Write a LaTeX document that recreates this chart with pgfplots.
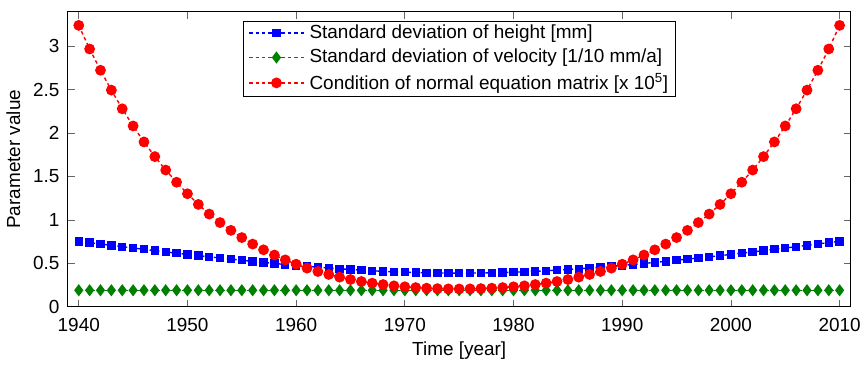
\documentclass[border=0pt]{standalone}
\usepackage{fontspec}
\setmainfont{Liberation Sans}
\usepackage{pgfplots}
\pgfplotsset{compat=1.18}
\usepackage{pgfplotstable}

\pgfplotstableread{
year h v c
1940 0.754 0.19 3.242
1941 0.739 0.19 2.970
1942 0.723 0.19 2.725
1943 0.707 0.19 2.496
1944 0.692 0.19 2.281
1945 0.677 0.19 2.083
1946 0.662 0.19 1.899
1947 0.647 0.19 1.730
1948 0.632 0.19 1.575
1949 0.617 0.19 1.435
1950 0.603 0.19 1.302
1951 0.589 0.19 1.179
1952 0.575 0.19 1.068
1953 0.562 0.19 0.970
1954 0.549 0.19 0.880
1955 0.536 0.19 0.797
1956 0.523 0.19 0.722
1957 0.511 0.19 0.656
1958 0.499 0.19 0.596
1959 0.487 0.19 0.540
1960 0.476 0.19 0.490
1961 0.466 0.19 0.445
1962 0.456 0.19 0.406
1963 0.446 0.19 0.372
1964 0.438 0.19 0.341
1965 0.429 0.19 0.314
1966 0.422 0.19 0.291
1967 0.415 0.19 0.272
1968 0.408 0.19 0.256
1969 0.403 0.19 0.241
1970 0.398 0.19 0.230
1971 0.394 0.19 0.221
1972 0.391 0.19 0.214
1973 0.389 0.19 0.209
1974 0.388 0.19 0.206
1975 0.387 0.19 0.205
1976 0.388 0.19 0.206
1977 0.389 0.19 0.209
1978 0.391 0.19 0.214
1979 0.394 0.19 0.221
1980 0.398 0.19 0.230
1981 0.403 0.19 0.241
1982 0.408 0.19 0.256
1983 0.415 0.19 0.272
1984 0.422 0.19 0.291
1985 0.429 0.19 0.314
1986 0.438 0.19 0.341
1987 0.446 0.19 0.372
1988 0.456 0.19 0.406
1989 0.466 0.19 0.445
1990 0.476 0.19 0.490
1991 0.487 0.19 0.540
1992 0.499 0.19 0.596
1993 0.511 0.19 0.656
1994 0.523 0.19 0.722
1995 0.536 0.19 0.797
1996 0.549 0.19 0.880
1997 0.562 0.19 0.970
1998 0.575 0.19 1.068
1999 0.589 0.19 1.179
2000 0.603 0.19 1.302
2001 0.617 0.19 1.435
2002 0.632 0.19 1.575
2003 0.647 0.19 1.730
2004 0.662 0.19 1.899
2005 0.677 0.19 2.083
2006 0.692 0.19 2.281
2007 0.707 0.19 2.496
2008 0.723 0.19 2.725
2009 0.739 0.19 2.970
2010 0.754 0.19 3.242
}\datatable

\definecolor{mblue}{rgb}{0,0,1}
\definecolor{mgreen}{rgb}{0,0.5,0}
\definecolor{mred}{rgb}{1,0,0}

\begin{document}
\fontsize{19}{23}\selectfont
\begin{tikzpicture}
\begin{axis}[
  scale only axis, width=785pt, height=296pt,
  xmin=1939, xmax=2011, ymin=0, ymax=3.4,
  xtick={1940,1950,...,2010}, ytick={0,0.5,...,3},
  tick align=inside, major tick length=7pt,
  /pgf/number format/assume math mode=true,
  x tick label style={/pgf/number format/1000 sep={}, yshift=-5pt},
  y tick label style={xshift=-2pt},
  xlabel={Time [year]}, ylabel={Parameter value},
  xlabel style={yshift=3pt},
  tick style={black!60, line width=0.8pt},
  axis line style={line width=1pt},
  every axis plot/.append style={line width=1.4pt, dash pattern=on 3.5pt off 3pt},
  legend style={at={(0.5,0.97)}, anchor=north,
    row sep=4pt, inner xsep=5pt, inner ysep=2pt, font=\fontsize{19}{23}\selectfont},
  legend cell align=left,
  legend image code/.code={\draw[mark repeat=2,mark phase=2,#1] plot coordinates {(0pt,0pt) (27.5pt,0pt) (55pt,0pt)};
    \path (58pt,0pt);},
]
\addplot[color=mblue, mark=square*, mark size=3.5pt, mark options={solid}] table[x=year,y=h]{\datatable};
\addlegendentry{Standard deviation of height [mm]}
\addplot[color=mgreen, mark=diamond*, mark size=5pt, mark options={solid}] table[x=year,y=v]{\datatable};
\addlegendentry{Standard deviation of velocity [1/10 mm/a]}
\addplot[color=mred, mark=*, mark size=4.7pt, mark options={solid}] table[x=year,y=c]{\datatable};
\addlegendentry{Condition of normal equation matrix [x 10\textsuperscript{5}]}
\end{axis}
\path ([yshift=11.7pt]current axis.north);
\end{tikzpicture}
\end{document}
